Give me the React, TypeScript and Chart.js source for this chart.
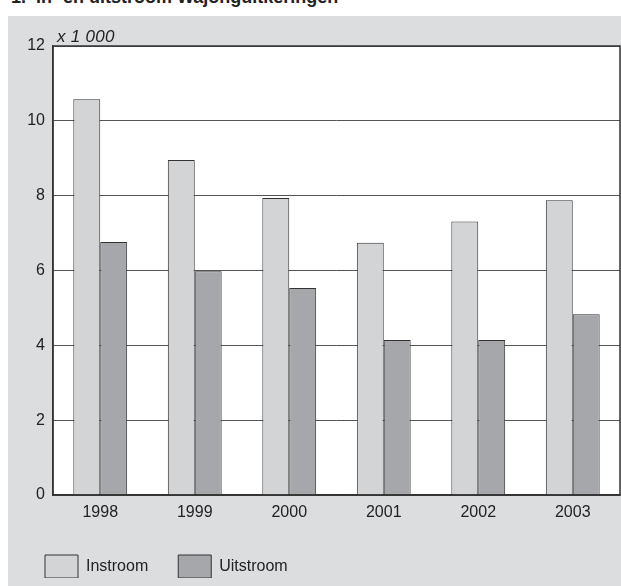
import React, { useEffect, useRef } from "react";
import { Chart, registerables } from "chart.js";

Chart.register(...registerables);

const categories = ["1998", "1999", "2000", "2001", "2002", "2003"];
const instroom = [10.58, 8.95, 7.94, 6.74, 7.31, 7.88];
const uitstroom = [6.76, 5.98, 5.53, 4.14, 4.14, 4.83];
const seriesNames = ["Instroom", "Uitstroom"];
const yMin = 0;
const yMax = 12;
const yStep = 2;

const FONT = "'Liberation Sans', Arial, Helvetica, sans-serif";

const bgPlugin = {
  id: "areaBg",
  beforeDraw(chart: any) {
    const { ctx, chartArea } = chart;
    if (!chartArea) return;
    ctx.save();
    ctx.fillStyle = "#ffffff";
    ctx.fillRect(chartArea.left, chartArea.top, chartArea.right - chartArea.left, chartArea.bottom - chartArea.top);
    ctx.restore();
  },
};

const framePlugin = {
  id: "areaFrame",
  afterDatasetsDraw(chart: any) {
    const { ctx, chartArea } = chart;
    ctx.save();
    ctx.strokeStyle = "#333333";
    ctx.lineWidth = 1.5;
    ctx.strokeRect(chartArea.left, chartArea.top, chartArea.right - chartArea.left, chartArea.bottom - chartArea.top);
    ctx.restore();
  },
};

export default function App() {
  const canvasRef = useRef<HTMLCanvasElement | null>(null);

  useEffect(() => {
    if (!canvasRef.current) return;
    const chart = new Chart(canvasRef.current, {
      type: "bar",
      data: {
        labels: categories,
        datasets: [
          {
            label: seriesNames[0],
            data: instroom,
            backgroundColor: "#d3d4d6",
            borderColor: "#333333",
            borderWidth: 1,
          },
          {
            label: seriesNames[1],
            data: uitstroom,
            backgroundColor: "#a6a7aa",
            borderColor: "#333333",
            borderWidth: 1,
          },
        ],
      },
      options: {
        animation: false,
        responsive: false,
        maintainAspectRatio: false,
        layout: { padding: { left: 7, right: 1, top: 30, bottom: 8 } },
        datasets: {
          bar: { categoryPercentage: 0.57, barPercentage: 1 },
        },
        scales: {
          x: {
            grid: { display: false, drawTicks: false },
            border: { display: true, color: "#333333", width: 1.5 },
            ticks: { font: { family: FONT, size: 16 }, color: "#222222", padding: 8 },
            afterFit(scale: any) {
              scale.height = 30;
            },
          },
          y: {
            min: yMin,
            max: yMax,
            ticks: { stepSize: yStep, font: { family: FONT, size: 16 }, color: "#222222", padding: 8 },
            grid: { color: "#555555", lineWidth: 1, drawTicks: false },
            border: { display: true, color: "#333333", width: 1.5 },
            afterFit(scale: any) {
              scale.width = 38;
            },
          },
        },
        plugins: {
          legend: {
            display: true,
            position: "bottom",
            align: "start",
            maxHeight: 53,
            labels: {
              boxWidth: 33,
              boxHeight: 23,
              padding: 30,
              color: "#222222",
              font: { family: FONT, size: 16 },
            },
          },
          tooltip: { enabled: false },
          title: { display: false },
        },
      },
      plugins: [bgPlugin, framePlugin],
    } as any);
    return () => chart.destroy();
  }, []);

  const titleStyle: React.CSSProperties = {
    position: "absolute",
    top: -13,
    fontFamily: FONT,
    fontWeight: "bold",
    fontSize: 18,
    color: "#222222",
    whiteSpace: "nowrap",
  };

  return (
    <div style={{ position: "fixed", left: 0, top: 0, width: 621, height: 586, overflow: "hidden", background: "#ffffff" }}>
      <span style={{ ...titleStyle, left: 11 }}>1.</span>
      <span style={{ ...titleStyle, left: 36 }}>In- en uitstroom Wajonguitkeringen</span>
      <div style={{ position: "absolute", left: 8, top: 16, width: 613, height: 570, background: "#dcdddf" }}>
        <canvas ref={canvasRef} width={613} height={570} style={{ display: "block", width: 613, height: 570 }} />
        <span
          style={{
            position: "absolute",
            left: 49,
            top: 11,
            fontFamily: FONT,
            fontStyle: "italic",
            fontSize: 17,
            letterSpacing: 0.3,
            color: "#222222",
            whiteSpace: "nowrap",
          }}
        >
          x 1 000
        </span>
      </div>
    </div>
  );
}
